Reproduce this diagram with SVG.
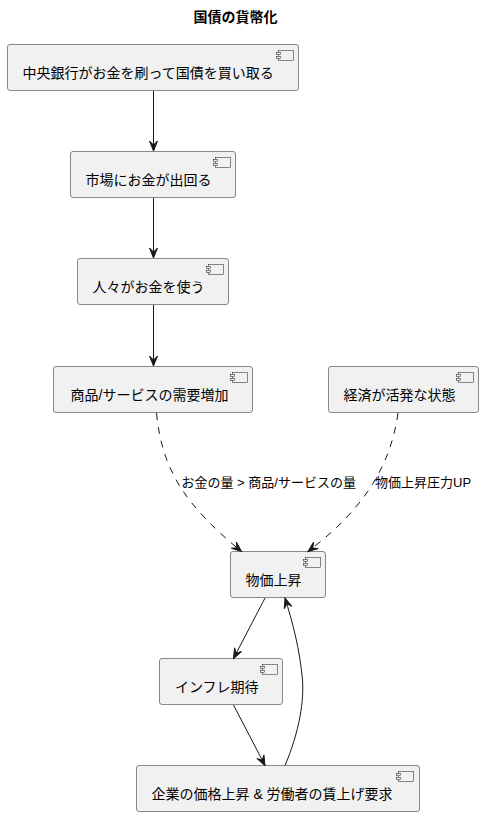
<svg xmlns="http://www.w3.org/2000/svg" width="484" height="817" viewBox="0 0 484 817">
<style>
.box{fill:#F1F1F1;stroke:#181818;stroke-width:0.5}
.t{font-family:"Liberation Sans","Noto Sans CJK JP",sans-serif;font-size:14px;fill:#000}
.lbl{font-family:"Liberation Sans","Noto Sans CJK JP",sans-serif;font-size:13px;fill:#000}
.title{font-family:"Liberation Sans","Noto Sans CJK JP",sans-serif;font-size:14px;font-weight:bold;fill:#000}
.e{fill:none;stroke:#181818;stroke-width:1}
.d{stroke-dasharray:7,7}
.ic{fill:#F1F1F1;stroke:#181818;stroke-width:0.5}
</style>
<defs>
<marker id="ah" viewBox="-11 -5 12 10" refX="0" refY="0" markerWidth="12" markerHeight="10" markerUnits="userSpaceOnUse" orient="auto">
<path d="M0,0 L-10,-4 L-6,0 L-10,4 Z" fill="#181818" stroke="#181818" stroke-width="1"/>
</marker>
<g id="icon">
<rect class="ic" x="0" y="0" width="15" height="10"/>
<rect class="ic" x="-2" y="2" width="4" height="2"/>
<rect class="ic" x="-2" y="6" width="4" height="2"/>
</g>
</defs>
<rect width="484" height="817" fill="#FFFFFF"/>
<text class="title" x="235.5" y="22" text-anchor="middle">国債の貨幣化</text>

<g id="n1">
<rect class="box" x="7.5" y="44.5" width="291" height="46" rx="2.5"/>
<use href="#icon" x="278.5" y="50.5"/>
<text class="t" x="22.5" y="78">中央銀行がお金を刷って国債を買い取る</text>
</g>
<g id="n2">
<rect class="box" x="70.5" y="151.5" width="165" height="46" rx="2.5"/>
<use href="#icon" x="215.5" y="157.5"/>
<text class="t" x="85.5" y="185">市場にお金が出回る</text>
</g>
<g id="n3">
<rect class="box" x="77.5" y="258.5" width="151" height="46" rx="2.5"/>
<use href="#icon" x="208.5" y="264.5"/>
<text class="t" x="92.5" y="292">人々がお金を使う</text>
</g>
<g id="n4">
<rect class="box" x="53.5" y="366.5" width="199" height="46" rx="2.5"/>
<use href="#icon" x="232.5" y="372.5"/>
<text class="t" x="70.5" y="400">商品/サービスの需要増加</text>
</g>
<g id="n5">
<rect class="box" x="328.5" y="366.5" width="150" height="46" rx="2.5"/>
<use href="#icon" x="458.5" y="372.5"/>
<text class="t" x="343.5" y="400">経済が活発な状態</text>
</g>
<g id="n6">
<rect class="box" x="230.5" y="551.5" width="95" height="46" rx="2.5"/>
<use href="#icon" x="305.5" y="557.5"/>
<text class="t" x="245.5" y="585">物価上昇</text>
</g>
<g id="n7">
<rect class="box" x="159.5" y="658.5" width="123" height="46" rx="2.5"/>
<use href="#icon" x="262.5" y="664.5"/>
<text class="t" x="175" y="692">インフレ期待</text>
</g>
<g id="n8">
<rect class="box" x="136.5" y="765.5" width="283" height="46" rx="2.5"/>
<use href="#icon" x="398.5" y="771.5"/>
<text class="t" x="151.5" y="799">企業の価格上昇 &amp; 労働者の賃上げ要求</text>
</g>

<g id="edges">
<path class="e" d="M153.5,91 L153.5,151" marker-end="url(#ah)"/>
<path class="e" d="M153.5,198 L153.5,258" marker-end="url(#ah)"/>
<path class="e" d="M153.5,305 L153.5,366" marker-end="url(#ah)"/>
<path class="e d" d="M156.5,413 C162,470 185,505 241.5,551.5" marker-end="url(#ah)"/>
<text class="lbl" x="181.5" y="487">お金の量 &gt; 商品/サービスの量</text>
<path class="e d" d="M398,413 C390,470 360,512 308,551.5" marker-end="url(#ah)"/>
<text class="lbl" x="375" y="487">物価上昇圧力UP</text>
<path class="e" d="M265,598 L233.5,658.5" marker-end="url(#ah)"/>
<path class="e" d="M233.5,705 L265,765.5" marker-end="url(#ah)"/>
<path class="e" d="M285,765.5 C300,730 304,700 302.5,680 C300,650 292,620 285,598" marker-end="url(#ah)"/>
</g>
</svg>
